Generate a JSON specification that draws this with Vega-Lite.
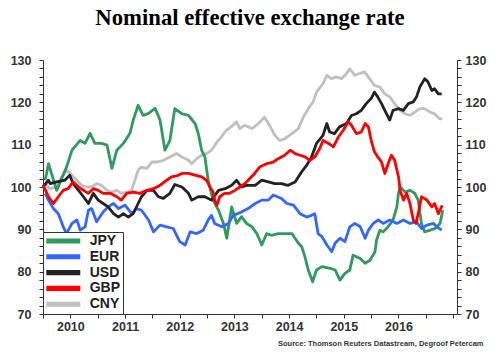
{
  "$schema": "https://vega.github.io/schema/vega-lite/v6.json",
  "width": 414,
  "height": 254,
  "autosize": "none",
  "padding": {"left": 43, "top": 60, "right": 43, "bottom": 49},
  "background": "white",
  "title": {"text": "Nominal effective exchange rate", "font": "Liberation Serif", "fontSize": 22.7, "fontWeight": "bold", "color": "black", "anchor": "middle", "offset": 24},
  "config": {
    "view": {"stroke": null},
    "axis": {"labelFont": "Liberation Sans", "labelFontWeight": "bold", "labelFontSize": 12.5, "labelColor": "#333", "domainColor": "#333", "tickColor": "#333", "tickSize": 4, "grid": false, "labelOverlap": false, "labelFlush": false},
    "legend": {"orient": "bottom-left", "offset": 0, "fillColor": "white", "strokeColor": "#333", "padding": 2, "symbolType": "M-1,-0.45H5V0.45H-1Z", "symbolSize": 128, "symbolStrokeWidth": 0, "labelFontSize": 14, "labelFont": "Liberation Sans", "labelFontWeight": "bold", "labelColor": "#222", "labelOffset": 30.7, "rowPadding": 1.8}
  },
  "data": {"values": [
    {"c":"CNY","t":2010.04,"v":100.8},{"c":"CNY","t":2010.13,"v":99.6},{"c":"CNY","t":2010.25,"v":100},{"c":"CNY","t":2010.34,"v":102.4},{"c":"CNY","t":2010.43,"v":104},{"c":"CNY","t":2010.53,"v":102.8},{"c":"CNY","t":2010.62,"v":101.6},{"c":"CNY","t":2010.71,"v":100.4},{"c":"CNY","t":2010.8,"v":100},{"c":"CNY","t":2010.89,"v":100},{"c":"CNY","t":2010.98,"v":100.8},{"c":"CNY","t":2011.07,"v":100.4},{"c":"CNY","t":2011.17,"v":99.2},{"c":"CNY","t":2011.26,"v":98.8},{"c":"CNY","t":2011.35,"v":99.2},{"c":"CNY","t":2011.43,"v":98.5},{"c":"CNY","t":2011.53,"v":98.8},{"c":"CNY","t":2011.62,"v":99.2},{"c":"CNY","t":2011.68,"v":101.6},{"c":"CNY","t":2011.74,"v":104},{"c":"CNY","t":2011.8,"v":104.7},{"c":"CNY","t":2011.9,"v":104.4},{"c":"CNY","t":2011.99,"v":105.9},{"c":"CNY","t":2012.08,"v":105.9},{"c":"CNY","t":2012.2,"v":106.3},{"c":"CNY","t":2012.32,"v":107.1},{"c":"CNY","t":2012.44,"v":107.9},{"c":"CNY","t":2012.54,"v":107.1},{"c":"CNY","t":2012.66,"v":106.3},{"c":"CNY","t":2012.72,"v":105.5},{"c":"CNY","t":2012.81,"v":106.7},{"c":"CNY","t":2012.9,"v":107.5},{"c":"CNY","t":2012.99,"v":107.9},{"c":"CNY","t":2013.08,"v":108.7},{"c":"CNY","t":2013.18,"v":110.6},{"c":"CNY","t":2013.26,"v":111.8},{"c":"CNY","t":2013.35,"v":113.4},{"c":"CNY","t":2013.44,"v":114.2},{"c":"CNY","t":2013.54,"v":115.4},{"c":"CNY","t":2013.6,"v":113.8},{"c":"CNY","t":2013.69,"v":114.6},{"c":"CNY","t":2013.82,"v":113.8},{"c":"CNY","t":2013.94,"v":115},{"c":"CNY","t":2014.05,"v":116.5},{"c":"CNY","t":2014.14,"v":114.6},{"c":"CNY","t":2014.24,"v":112.2},{"c":"CNY","t":2014.33,"v":111},{"c":"CNY","t":2014.42,"v":111.4},{"c":"CNY","t":2014.55,"v":112.6},{"c":"CNY","t":2014.67,"v":113.8},{"c":"CNY","t":2014.76,"v":116.5},{"c":"CNY","t":2014.85,"v":118.5},{"c":"CNY","t":2014.94,"v":120.1},{"c":"CNY","t":2015.0,"v":122.4},{"c":"CNY","t":2015.12,"v":124.4},{"c":"CNY","t":2015.19,"v":126.4},{"c":"CNY","t":2015.27,"v":125.6},{"c":"CNY","t":2015.36,"v":126},{"c":"CNY","t":2015.46,"v":125.6},{"c":"CNY","t":2015.55,"v":126.8},{"c":"CNY","t":2015.61,"v":127.9},{"c":"CNY","t":2015.7,"v":126.4},{"c":"CNY","t":2015.79,"v":126.8},{"c":"CNY","t":2015.88,"v":127.2},{"c":"CNY","t":2015.97,"v":125.6},{"c":"CNY","t":2016.06,"v":124},{"c":"CNY","t":2016.16,"v":123.6},{"c":"CNY","t":2016.25,"v":122},{"c":"CNY","t":2016.34,"v":121.3},{"c":"CNY","t":2016.43,"v":119.7},{"c":"CNY","t":2016.53,"v":118.1},{"c":"CNY","t":2016.62,"v":117.3},{"c":"CNY","t":2016.71,"v":116.9},{"c":"CNY","t":2016.8,"v":117.7},{"c":"CNY","t":2016.89,"v":118.5},{"c":"CNY","t":2016.98,"v":118.5},{"c":"CNY","t":2017.08,"v":117.7},{"c":"CNY","t":2017.16,"v":117.3},{"c":"CNY","t":2017.25,"v":116.1},{"c":"CNY","t":2017.3,"v":116.1},
    {"c":"JPY","t":2010.04,"v":101.6},{"c":"JPY","t":2010.1,"v":105.5},{"c":"JPY","t":2010.25,"v":99.2},{"c":"JPY","t":2010.43,"v":104.7},{"c":"JPY","t":2010.53,"v":108.7},{"c":"JPY","t":2010.68,"v":111},{"c":"JPY","t":2010.77,"v":110.3},{"c":"JPY","t":2010.86,"v":112.7},{"c":"JPY","t":2010.95,"v":110.3},{"c":"JPY","t":2011.07,"v":110.3},{"c":"JPY","t":2011.17,"v":109.9},{"c":"JPY","t":2011.26,"v":104.4},{"c":"JPY","t":2011.35,"v":108.7},{"c":"JPY","t":2011.47,"v":110.3},{"c":"JPY","t":2011.59,"v":112.7},{"c":"JPY","t":2011.65,"v":115.8},{"c":"JPY","t":2011.74,"v":119.3},{"c":"JPY","t":2011.83,"v":116.9},{"c":"JPY","t":2011.93,"v":117.4},{"c":"JPY","t":2012.05,"v":118.6},{"c":"JPY","t":2012.14,"v":115.8},{"c":"JPY","t":2012.23,"v":108.7},{"c":"JPY","t":2012.32,"v":111},{"c":"JPY","t":2012.41,"v":118.5},{"c":"JPY","t":2012.54,"v":117.3},{"c":"JPY","t":2012.66,"v":116.9},{"c":"JPY","t":2012.78,"v":115},{"c":"JPY","t":2012.84,"v":112.6},{"c":"JPY","t":2012.9,"v":108.7},{"c":"JPY","t":2012.96,"v":107.1},{"c":"JPY","t":2013.02,"v":101.6},{"c":"JPY","t":2013.11,"v":96.9},{"c":"JPY","t":2013.21,"v":94.5},{"c":"JPY","t":2013.3,"v":91.4},{"c":"JPY","t":2013.36,"v":87.9},{"c":"JPY","t":2013.45,"v":95.3},{"c":"JPY","t":2013.54,"v":91.4},{"c":"JPY","t":2013.63,"v":93},{"c":"JPY","t":2013.72,"v":91.4},{"c":"JPY","t":2013.82,"v":90.6},{"c":"JPY","t":2013.91,"v":89},{"c":"JPY","t":2014.0,"v":86.3},{"c":"JPY","t":2014.09,"v":89},{"c":"JPY","t":2014.18,"v":88.6},{"c":"JPY","t":2014.3,"v":89},{"c":"JPY","t":2014.42,"v":89},{"c":"JPY","t":2014.55,"v":89},{"c":"JPY","t":2014.67,"v":86.7},{"c":"JPY","t":2014.73,"v":85.9},{"c":"JPY","t":2014.79,"v":83.5},{"c":"JPY","t":2014.85,"v":80.4},{"c":"JPY","t":2014.93,"v":77.6},{"c":"JPY","t":2015.0,"v":80.4},{"c":"JPY","t":2015.1,"v":81.2},{"c":"JPY","t":2015.25,"v":80.8},{"c":"JPY","t":2015.34,"v":80.4},{"c":"JPY","t":2015.43,"v":78},{"c":"JPY","t":2015.52,"v":79.6},{"c":"JPY","t":2015.61,"v":80.4},{"c":"JPY","t":2015.67,"v":83.9},{"c":"JPY","t":2015.8,"v":83.1},{"c":"JPY","t":2015.89,"v":82},{"c":"JPY","t":2015.98,"v":82.7},{"c":"JPY","t":2016.07,"v":84.7},{"c":"JPY","t":2016.1,"v":87.5},{"c":"JPY","t":2016.16,"v":89.8},{"c":"JPY","t":2016.22,"v":89.4},{"c":"JPY","t":2016.31,"v":90.6},{"c":"JPY","t":2016.4,"v":92.2},{"c":"JPY","t":2016.47,"v":95.3},{"c":"JPY","t":2016.5,"v":98.5},{"c":"JPY","t":2016.53,"v":100},{"c":"JPY","t":2016.62,"v":98.8},{"c":"JPY","t":2016.71,"v":99.2},{"c":"JPY","t":2016.8,"v":98.5},{"c":"JPY","t":2016.86,"v":96.9},{"c":"JPY","t":2016.92,"v":91.4},{"c":"JPY","t":2016.98,"v":89.4},{"c":"JPY","t":2017.08,"v":89.8},{"c":"JPY","t":2017.17,"v":90.2},{"c":"JPY","t":2017.26,"v":91.4},{"c":"JPY","t":2017.31,"v":94.5},
    {"c":"EUR","t":2010.04,"v":98.5},{"c":"EUR","t":2010.1,"v":96.9},{"c":"EUR","t":2010.19,"v":94.9},{"c":"EUR","t":2010.28,"v":93.7},{"c":"EUR","t":2010.37,"v":90.6},{"c":"EUR","t":2010.43,"v":89},{"c":"EUR","t":2010.53,"v":91.4},{"c":"EUR","t":2010.62,"v":92.2},{"c":"EUR","t":2010.68,"v":89.8},{"c":"EUR","t":2010.77,"v":90.6},{"c":"EUR","t":2010.83,"v":94.5},{"c":"EUR","t":2010.89,"v":94.9},{"c":"EUR","t":2010.98,"v":91.8},{"c":"EUR","t":2011.1,"v":94.1},{"c":"EUR","t":2011.19,"v":95.3},{"c":"EUR","t":2011.29,"v":96.1},{"c":"EUR","t":2011.38,"v":94.9},{"c":"EUR","t":2011.5,"v":95.7},{"c":"EUR","t":2011.62,"v":93.7},{"c":"EUR","t":2011.71,"v":94.9},{"c":"EUR","t":2011.8,"v":94.5},{"c":"EUR","t":2011.93,"v":92.2},{"c":"EUR","t":2012.02,"v":89.4},{"c":"EUR","t":2012.14,"v":91},{"c":"EUR","t":2012.26,"v":90.6},{"c":"EUR","t":2012.38,"v":90.2},{"c":"EUR","t":2012.5,"v":87.1},{"c":"EUR","t":2012.6,"v":86.3},{"c":"EUR","t":2012.69,"v":89.4},{"c":"EUR","t":2012.81,"v":89},{"c":"EUR","t":2012.93,"v":89.8},{"c":"EUR","t":2013.02,"v":92.2},{"c":"EUR","t":2013.08,"v":93.3},{"c":"EUR","t":2013.14,"v":91.4},{"c":"EUR","t":2013.27,"v":90.6},{"c":"EUR","t":2013.39,"v":91.4},{"c":"EUR","t":2013.48,"v":93.3},{"c":"EUR","t":2013.63,"v":94.1},{"c":"EUR","t":2013.75,"v":94.9},{"c":"EUR","t":2013.88,"v":96.1},{"c":"EUR","t":2014.0,"v":96.9},{"c":"EUR","t":2014.12,"v":96.9},{"c":"EUR","t":2014.21,"v":98.1},{"c":"EUR","t":2014.36,"v":97.3},{"c":"EUR","t":2014.46,"v":96.1},{"c":"EUR","t":2014.58,"v":95.7},{"c":"EUR","t":2014.7,"v":93.7},{"c":"EUR","t":2014.82,"v":92.9},{"c":"EUR","t":2014.91,"v":93.3},{"c":"EUR","t":2014.97,"v":93.7},{"c":"EUR","t":2015.03,"v":89},{"c":"EUR","t":2015.1,"v":88.3},{"c":"EUR","t":2015.19,"v":86.3},{"c":"EUR","t":2015.28,"v":84.7},{"c":"EUR","t":2015.34,"v":86.7},{"c":"EUR","t":2015.43,"v":87.9},{"c":"EUR","t":2015.52,"v":87.1},{"c":"EUR","t":2015.61,"v":90.6},{"c":"EUR","t":2015.7,"v":91.4},{"c":"EUR","t":2015.8,"v":90.6},{"c":"EUR","t":2015.89,"v":87.9},{"c":"EUR","t":2015.95,"v":89.8},{"c":"EUR","t":2016.04,"v":91.4},{"c":"EUR","t":2016.13,"v":92.2},{"c":"EUR","t":2016.22,"v":91.4},{"c":"EUR","t":2016.34,"v":92.2},{"c":"EUR","t":2016.47,"v":91.4},{"c":"EUR","t":2016.59,"v":92.2},{"c":"EUR","t":2016.71,"v":91.4},{"c":"EUR","t":2016.83,"v":91.8},{"c":"EUR","t":2016.92,"v":90.2},{"c":"EUR","t":2017.02,"v":91},{"c":"EUR","t":2017.14,"v":91.4},{"c":"EUR","t":2017.2,"v":90.6},{"c":"EUR","t":2017.29,"v":89.8},
    {"c":"USD","t":2010.0,"v":100},{"c":"USD","t":2010.1,"v":101.6},{"c":"USD","t":2010.13,"v":100.8},{"c":"USD","t":2010.25,"v":101.2},{"c":"USD","t":2010.4,"v":101.6},{"c":"USD","t":2010.49,"v":102.8},{"c":"USD","t":2010.55,"v":100.8},{"c":"USD","t":2010.65,"v":99.2},{"c":"USD","t":2010.74,"v":97.7},{"c":"USD","t":2010.83,"v":96.1},{"c":"USD","t":2010.92,"v":98.5},{"c":"USD","t":2011.01,"v":96.9},{"c":"USD","t":2011.1,"v":96.1},{"c":"USD","t":2011.19,"v":95.3},{"c":"USD","t":2011.29,"v":93.7},{"c":"USD","t":2011.38,"v":92.9},{"c":"USD","t":2011.47,"v":93.7},{"c":"USD","t":2011.56,"v":92.9},{"c":"USD","t":2011.65,"v":93.7},{"c":"USD","t":2011.74,"v":96.1},{"c":"USD","t":2011.8,"v":97.7},{"c":"USD","t":2011.9,"v":99.2},{"c":"USD","t":2012.02,"v":99.2},{"c":"USD","t":2012.11,"v":97.7},{"c":"USD","t":2012.2,"v":97.3},{"c":"USD","t":2012.32,"v":98.5},{"c":"USD","t":2012.41,"v":100.6},{"c":"USD","t":2012.54,"v":100},{"c":"USD","t":2012.66,"v":98.5},{"c":"USD","t":2012.72,"v":96.9},{"c":"USD","t":2012.84,"v":97.7},{"c":"USD","t":2012.96,"v":97.7},{"c":"USD","t":2013.08,"v":96.9},{"c":"USD","t":2013.21,"v":99.2},{"c":"USD","t":2013.33,"v":99.6},{"c":"USD","t":2013.45,"v":100.4},{"c":"USD","t":2013.54,"v":101.6},{"c":"USD","t":2013.63,"v":100},{"c":"USD","t":2013.72,"v":100.4},{"c":"USD","t":2013.88,"v":100.4},{"c":"USD","t":2014.0,"v":101.6},{"c":"USD","t":2014.12,"v":101.2},{"c":"USD","t":2014.24,"v":100.8},{"c":"USD","t":2014.36,"v":100.8},{"c":"USD","t":2014.48,"v":100.4},{"c":"USD","t":2014.61,"v":101.2},{"c":"USD","t":2014.73,"v":103.6},{"c":"USD","t":2014.82,"v":105.1},{"c":"USD","t":2014.91,"v":107.1},{"c":"USD","t":2015.0,"v":110.3},{"c":"USD","t":2015.12,"v":112.2},{"c":"USD","t":2015.19,"v":115},{"c":"USD","t":2015.24,"v":113},{"c":"USD","t":2015.33,"v":112.6},{"c":"USD","t":2015.42,"v":114.2},{"c":"USD","t":2015.55,"v":115},{"c":"USD","t":2015.64,"v":116.9},{"c":"USD","t":2015.73,"v":117.3},{"c":"USD","t":2015.82,"v":118.1},{"c":"USD","t":2015.91,"v":119.7},{"c":"USD","t":2016.0,"v":120.9},{"c":"USD","t":2016.06,"v":122.4},{"c":"USD","t":2016.12,"v":121.3},{"c":"USD","t":2016.19,"v":119.7},{"c":"USD","t":2016.25,"v":118.1},{"c":"USD","t":2016.34,"v":115.8},{"c":"USD","t":2016.4,"v":118.1},{"c":"USD","t":2016.5,"v":118.5},{"c":"USD","t":2016.59,"v":118.1},{"c":"USD","t":2016.68,"v":119.7},{"c":"USD","t":2016.77,"v":120.1},{"c":"USD","t":2016.83,"v":121.3},{"c":"USD","t":2016.89,"v":123.6},{"c":"USD","t":2016.98,"v":125.6},{"c":"USD","t":2017.04,"v":124.8},{"c":"USD","t":2017.11,"v":122.8},{"c":"USD","t":2017.16,"v":123.2},{"c":"USD","t":2017.23,"v":122},{"c":"USD","t":2017.29,"v":122},
    {"c":"GBP","t":2010.0,"v":100.5},{"c":"GBP","t":2010.1,"v":97.7},{"c":"GBP","t":2010.19,"v":96.1},{"c":"GBP","t":2010.28,"v":97.7},{"c":"GBP","t":2010.37,"v":99.2},{"c":"GBP","t":2010.46,"v":99.6},{"c":"GBP","t":2010.55,"v":101.2},{"c":"GBP","t":2010.65,"v":100},{"c":"GBP","t":2010.74,"v":99.2},{"c":"GBP","t":2010.83,"v":98.5},{"c":"GBP","t":2010.92,"v":99.6},{"c":"GBP","t":2011.01,"v":99.2},{"c":"GBP","t":2011.1,"v":98.5},{"c":"GBP","t":2011.23,"v":98.5},{"c":"GBP","t":2011.35,"v":97.7},{"c":"GBP","t":2011.43,"v":96.9},{"c":"GBP","t":2011.53,"v":98.5},{"c":"GBP","t":2011.65,"v":98.8},{"c":"GBP","t":2011.77,"v":98.5},{"c":"GBP","t":2011.9,"v":99.2},{"c":"GBP","t":2012.02,"v":99.6},{"c":"GBP","t":2012.14,"v":100.4},{"c":"GBP","t":2012.26,"v":101.6},{"c":"GBP","t":2012.35,"v":102.4},{"c":"GBP","t":2012.44,"v":102.6},{"c":"GBP","t":2012.54,"v":103.2},{"c":"GBP","t":2012.66,"v":103.2},{"c":"GBP","t":2012.78,"v":102.8},{"c":"GBP","t":2012.9,"v":102.4},{"c":"GBP","t":2012.99,"v":101.6},{"c":"GBP","t":2013.05,"v":100},{"c":"GBP","t":2013.11,"v":98.8},{"c":"GBP","t":2013.14,"v":96.9},{"c":"GBP","t":2013.18,"v":95.7},{"c":"GBP","t":2013.23,"v":97.7},{"c":"GBP","t":2013.32,"v":98.5},{"c":"GBP","t":2013.41,"v":98.5},{"c":"GBP","t":2013.51,"v":99.2},{"c":"GBP","t":2013.6,"v":100},{"c":"GBP","t":2013.69,"v":100.8},{"c":"GBP","t":2013.78,"v":102},{"c":"GBP","t":2013.87,"v":103.2},{"c":"GBP","t":2013.96,"v":104.7},{"c":"GBP","t":2014.09,"v":105.5},{"c":"GBP","t":2014.21,"v":105.9},{"c":"GBP","t":2014.3,"v":106.7},{"c":"GBP","t":2014.42,"v":107.5},{"c":"GBP","t":2014.52,"v":108.7},{"c":"GBP","t":2014.61,"v":107.9},{"c":"GBP","t":2014.7,"v":107.5},{"c":"GBP","t":2014.79,"v":107.1},{"c":"GBP","t":2014.88,"v":106.3},{"c":"GBP","t":2014.97,"v":107.1},{"c":"GBP","t":2015.06,"v":109.1},{"c":"GBP","t":2015.12,"v":111},{"c":"GBP","t":2015.22,"v":110.3},{"c":"GBP","t":2015.31,"v":109.5},{"c":"GBP","t":2015.4,"v":111.8},{"c":"GBP","t":2015.49,"v":113.4},{"c":"GBP","t":2015.58,"v":115.4},{"c":"GBP","t":2015.64,"v":114.6},{"c":"GBP","t":2015.73,"v":112.6},{"c":"GBP","t":2015.82,"v":113},{"c":"GBP","t":2015.89,"v":115},{"c":"GBP","t":2015.95,"v":114.2},{"c":"GBP","t":2016.0,"v":111},{"c":"GBP","t":2016.06,"v":108.3},{"c":"GBP","t":2016.12,"v":107.1},{"c":"GBP","t":2016.19,"v":105.9},{"c":"GBP","t":2016.25,"v":103.2},{"c":"GBP","t":2016.31,"v":105.5},{"c":"GBP","t":2016.37,"v":107.5},{"c":"GBP","t":2016.43,"v":106.3},{"c":"GBP","t":2016.5,"v":102.4},{"c":"GBP","t":2016.53,"v":99.2},{"c":"GBP","t":2016.59,"v":96.9},{"c":"GBP","t":2016.65,"v":98.5},{"c":"GBP","t":2016.71,"v":96.1},{"c":"GBP","t":2016.77,"v":92.2},{"c":"GBP","t":2016.82,"v":91.4},{"c":"GBP","t":2016.86,"v":93.7},{"c":"GBP","t":2016.92,"v":97.7},{"c":"GBP","t":2017.02,"v":96.9},{"c":"GBP","t":2017.11,"v":95.3},{"c":"GBP","t":2017.16,"v":96.1},{"c":"GBP","t":2017.23,"v":93.7},{"c":"GBP","t":2017.3,"v":95.7}
  ]},
  "encoding": {
    "x": {"field": "t", "type": "quantitative", "scale": {"domain": [2010, 2017.57], "nice": false, "zero": false},
      "axis": {"values": [2010, 2010.5, 2011, 2011.5, 2012, 2012.5, 2013, 2013.5, 2014, 2014.5, 2015, 2015.5, 2016, 2016.5, 2017, 2017.5], "labelExpr": "datum.value % 1 == 0.5 && datum.value < 2017 ? '' + floor(datum.value) : ''", "labelPadding": 2,
        "title": "Source: Thomson Reuters Datastream, Degroof Petercam", "titleFont": "Liberation Sans", "titleFontSize": 7.5, "titleFontWeight": "bold", "titleColor": "#333", "titleAnchor": "end", "titleAlign": "right", "titleBaseline": "middle", "titleX": 440, "titleY": 29}}
  },
  "layer": [
    {
      "mark": {"type": "line", "strokeWidth": 2.8, "strokeJoin": "round"},
      "encoding": {
        "y": {"field": "v", "type": "quantitative", "scale": {"domain": [70, 130], "nice": false, "zero": false},
          "axis": {"orient": "left", "title": null, "values": [70,72,74,76,78,80,82,84,86,88,90,92,94,96,98,100,102,104,106,108,110,112,114,116,118,120,122,124,126,128,130], "labelExpr": "datum.value % 10 == 0 ? datum.label : ''", "labelPadding": 8}},
        "color": {"field": "c", "type": "nominal", "scale": {"domain": ["JPY", "EUR", "USD", "GBP", "CNY"], "range": ["#2e9a5e", "#3366ff", "#222222", "#ff0000", "#c0c0c0"]},
          "legend": {"title": null, "labelExpr": "datum.label + '\u00a0\u00a0\u00a0\u00a0\u00a0\u00a0\u00a0\u00a0\u00a0\u00a0\u00a0\u00a0\u00a0'",
            "encode": {"symbols": {"update": {"fill": {"scale": "color", "field": "value"}, "fillOpacity": {"value": 1}, "strokeWidth": {"value": 0}}}}}}
      }
    },
    {
      "mark": {"type": "line", "strokeOpacity": 0},
      "encoding": {
        "y": {"field": "v", "type": "quantitative",
          "axis": {"orient": "right", "title": null, "values": [70,72,74,76,78,80,82,84,86,88,90,92,94,96,98,100,102,104,106,108,110,112,114,116,118,120,122,124,126,128,130], "labelExpr": "datum.value % 10 == 0 ? datum.label : ''", "labelPadding": 4}},
        "detail": {"field": "c", "type": "nominal"}
      }
    }
  ],
  "resolve": {"axis": {"y": "independent"}}
}
